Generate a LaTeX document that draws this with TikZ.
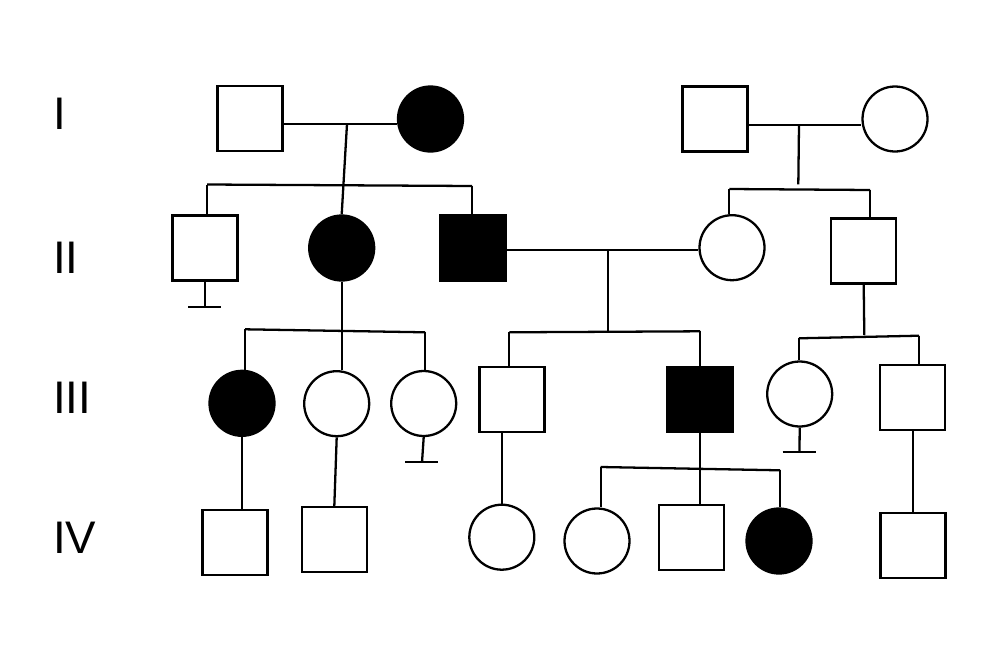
\documentclass[tikz,border=0pt]{standalone}
\usepackage{fontspec}
\setmainfont{Liberation Sans}

\begin{document}
\begin{tikzpicture}[x=0.02cm, y=-0.02cm, line width=1.3pt,
        male/.style={rectangle, draw, minimum size=1.30cm, inner sep=0pt},
        female/.style={circle, draw, minimum size=1.30cm, inner sep=0pt},
        affected/.style={fill=black},
        gen/.style={anchor=west, inner sep=0pt, font=\fontsize{26}{30}\selectfont}]

    \useasboundingbox (0,0) rectangle (1000,666);

    \node[gen] (GI)   at (52,113.5) {I};
    \node[gen] (GII)  at (52,257.5) {II};
    \node[gen] (GIII) at (52,398)   {III};
    \node[gen] (GIV)  at (52,538)   {IV};

    % generation I
    \node[male] (I1) at (250,118.5) {};
    \node[female, affected] (I2) at (430.5,119) {};
    \node[male] (I3) at (715,119) {};
    \node[female] (I4) at (895,119) {};

    % generation II
    \node[male] (II1) at (205,248) {};
    \node[female, affected] (II2) at (341.7,248) {};
    \node[male, affected] (II3) at (473,248) {};
    \node[female] (II4) at (732,247.7) {};
    \node[male] (II5) at (863.7,251) {};

    % generation III
    \node[female, affected] (III1) at (242,403.3) {};
    \node[female] (III2) at (336.7,403.7) {};
    \node[female] (III3) at (423.7,403.5) {};
    \node[male] (III4) at (512,399.7) {};
    \node[male, affected] (III5) at (700,399.5) {};
    \node[female] (III6) at (799.7,394) {};
    \node[male] (III7) at (912.7,397.3) {};

    % generation IV
    \node[male] (IV1) at (235,542.3) {};
    \node[male] (IV2) at (334.3,539.7) {};
    \node[female] (IV3) at (501.8,537.2) {};
    \node[female] (IV4) at (597,541) {};
    \node[male] (IV5) at (691.8,537.8) {};
    \node[female, affected] (IV6) at (779,541) {};
    \node[male] (IV7) at (913,545.8) {};

    % line junctions
    \coordinate (m1) at (347,124);
    \coordinate (s1l) at (207,184.5);
    \coordinate (s1r) at (472,186);
    \coordinate (m2) at (799,125);
    \coordinate (d2) at (798.3,184.3);
    \coordinate (s2l) at (729.3,189);
    \coordinate (s2r) at (870,190);
    \coordinate (m3) at (608.3,250);
    \coordinate (d3) at (608.3,331.7);
    \coordinate (s3l) at (509.3,332.3);
    \coordinate (s3r) at (700,331.3);
    \coordinate (d4) at (864.3,335);
    \coordinate (s4l) at (799,338.3);
    \coordinate (s4r) at (919,335.7);
    \coordinate (s5l) at (245,329.3);
    \coordinate (s5r) at (425,332.3);
    \coordinate (s6l) at (600.7,467);
    \coordinate (s6r) at (780,470.3);
    \coordinate (n1) at (205,307);
    \coordinate (n2) at (422,462.3);
    \coordinate (n3) at (799.5,451.7);

    % I1 x I2
    \draw (I1.east |- m1) -- (I2.west |- m1);
    \draw (m1) -- (II2.north);
    \draw (s1l) -- (s1r);
    \draw (s1l) -- (s1l |- II1.north);
    \draw (s1r) -- (s1r |- II3.north);

    % I3 x I4
    \draw (I3.east |- m2) -- (I4.west |- m2);
    \draw (m2) -- (d2);
    \draw (s2l) -- (s2r);
    \draw (s2l) -- (s2l |- II4.north);
    \draw (s2r) -- (s2r |- II5.north);

    % II3 x II4
    \draw (II3.east |- m3) -- (II4.west |- m3);
    \draw (m3) -- (d3);
    \draw (s3l) -- (s3r);
    \draw (s3l) -- (s3l |- III4.north);
    \draw (s3r) -- (s3r |- III5.north);

    % children of II2 and II5
    \draw (II2.south) -- (II2.south |- III2.north);
    \draw (s5l) -- (s5r);
    \draw (s5l) -- (s5l |- III1.north);
    \draw (s5r) -- (s5r |- III3.north);
    \draw (II5.south) -- (d4);
    \draw (s4l) -- (s4r);
    \draw (s4l) -- (s4l |- III6.north);
    \draw (s4r) -- (s4r |- III7.north);

    % no offspring
    \draw (II1.south) -- (n1);
    \draw (n1) ++(-17,0) -- ++(33,0);
    \draw (III3.south) -- (n2);
    \draw (n2) ++(-17,0) -- ++(33,0);
    \draw (III6.south) -- (n3);
    \draw (n3) ++(-17,0) -- ++(33,0);

    % generation III to IV
    \draw (III1.south) -- (III1.south |- IV1.north);
    \draw (III2.south) -- (IV2.north);
    \draw (IV3.north |- III4.south) -- (IV3.north);
    \draw (III5.south) -- (III5.south |- IV5.north);
    \draw (s6l) -- (s6r);
    \draw (s6l) -- (s6l |- IV4.north);
    \draw (s6r) -- (s6r |- IV6.north);
    \draw (III7.south) -- (III7.south |- IV7.north);
\end{tikzpicture}
\end{document}
